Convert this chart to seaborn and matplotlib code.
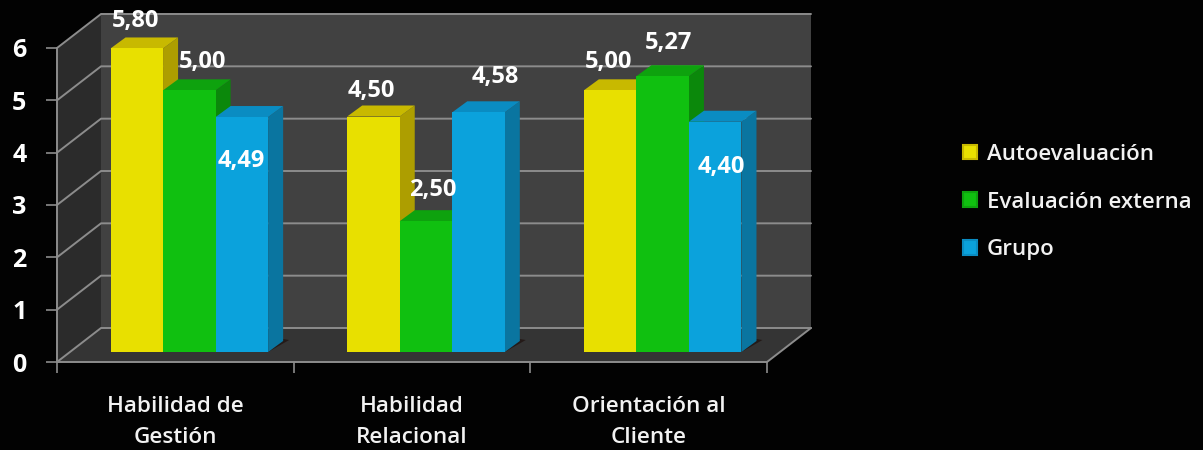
import matplotlib
matplotlib.use("Agg")
import matplotlib.pyplot as plt
import seaborn as sns
import pandas as pd
from matplotlib.patches import Polygon, Patch
from matplotlib.transforms import IdentityTransform

# ---- data ----
categories = ["Habilidad de\nGestión", "Habilidad\nRelacional", "Orientación al\nCliente"]
series_names = ["Autoevaluación", "Evaluación externa", "Grupo"]
autoevaluacion = [5.80, 4.50, 5.00]
evaluacion_externa = [5.00, 2.50, 5.27]
grupo = [4.49, 4.58, 4.40]
y_ticks = [0, 1, 2, 3, 4, 5, 6]

# ---- style / placement ----
W, H = 1203, 450
FONT = "Open Sans"
front_col = dict(zip(series_names, ["#E8E000", "#10C010", "#0BA2DC"]))
side_col = dict(zip(series_names, ["#AD9E00", "#0B880B", "#0A75A0"]))
top_col = dict(zip(series_names, ["#C8B900", "#0EA20E", "#0A8CC2"]))
WALL_D = (44, 34)      # depth of the chart box, px
BAR_SHIFT = (14, 10)   # bars stand inside the box, px
BAR_D = (15, 11)       # depth of each bar, px
# label offsets from top-centre of each bar front, px (series by series)
label_off = {
    "Autoevaluación": [(-1, 27), (-2, 26), (-2, 28)],
    "Evaluación externa": [(13, 28), (7, 31), (6, 33)],
    "Grupo": [(-1, -44), (17, 35), (6, -45)],
}

sns.set_theme(style="white")
plt.rcParams["font.family"] = [FONT, "DejaVu Sans"]
fig = plt.figure(figsize=(W / 100, H / 100), dpi=100, facecolor="#020202")


def box(l, bottom_px, r, top_px):
    return [l / W, 1 - bottom_px / H, (r - l) / W, (bottom_px - top_px) / H]


ax = fig.add_axes(box(57, 362, 767, 48), facecolor="none")
ax_bar = fig.add_axes(box(57 + BAR_SHIFT[0], 362 - BAR_SHIFT[1], 767 + BAR_SHIFT[0], 48 - BAR_SHIFT[1]),
                      facecolor="none", zorder=3)

df = pd.DataFrame({
    "cat": categories * 3,
    "serie": [s for s in series_names for _ in categories],
    "valor": autoevaluacion + evaluacion_externa + grupo,
})
sns.barplot(data=df, x="cat", y="valor", hue="serie", order=categories, hue_order=series_names,
            palette=front_col, width=0.666, gap=0, saturation=1, legend=False, ax=ax_bar, linewidth=0)
ax_bar.set_xlim(-0.5, 2.5)
ax_bar.set_ylim(0, 6)
ax_bar.axis("off")

# base axes
ax.set_xlim(-0.5, 2.5)
ax.set_ylim(0, 6)
ax.set_yticks(y_ticks)
ax.set_xticks(range(len(categories)))
ax.set_xticklabels(categories, linespacing=1.62, fontsize=16.2, fontweight="semibold", color="#F2F2F2")
ax.set_xticks([-0.5, 0.5, 1.5, 2.5], minor=True)
ax.tick_params(axis="x", which="major", length=0, pad=24.5)
ax.tick_params(axis="x", which="minor", length=8, width=1.2, color="#8C8C8C", direction="out", bottom=True)
ax.tick_params(axis="y", length=8, width=1.2, color="#8C8C8C", pad=14, left=True)
for t in ax.get_yticklabels():
    t.set_fontsize(18)
    t.set_fontweight("bold")
    t.set_color("white")
for s in ax.spines.values():
    s.set_visible(False)
ax.set_xlabel("")
ax.set_ylabel("")

fig.canvas.draw()
px = IdentityTransform()
to_px = ax.transData.transform


def poly(pts, col, z, target=ax):
    target.add_patch(Polygon(pts, closed=True, facecolor=col, edgecolor="none",
                             transform=px, clip_on=False, zorder=z))


# chart box
(x0, y0), (x1, y1) = to_px((-0.5, 0)), to_px((2.5, 6))
dx, dy = WALL_D
poly([(x0 + dx, y0 + dy), (x1 + dx, y0 + dy), (x1 + dx, y1 + dy), (x0 + dx, y1 + dy)], "#414141", 0.1)
poly([(x0, y0), (x0 + dx, y0 + dy), (x0 + dx, y1 + dy), (x0, y1)], "#2B2B2B", 0.2)
poly([(x0, y0), (x1, y0), (x1 + dx, y0 + dy), (x0 + dx, y0 + dy)], "#343434", 0.2)
for v in y_ticks:
    _, yy = to_px((0, v))
    ax.plot([x0, x0 + dx, x1 + dx], [yy, yy + dy, yy + dy], color="#8C8C8C", lw=1.4, transform=px,
            clip_on=False, zorder=0.5)
ax.plot([x0, x1, x1 + dx], [y0, y0, y0 + dy], color="#8C8C8C", lw=1.4, transform=px, clip_on=False, zorder=0.5)
ax.plot([x0, x0], [y0, y1], color="#8C8C8C", lw=1.4, transform=px, clip_on=False, zorder=0.5)

# 3D bars, built on the seaborn bars' own geometry
bar_px = ax_bar.transData.transform
bdx, bdy = BAR_D
n = len(categories)
rects = []
for i, s in enumerate(series_names):
    for j in range(n):
        rects.append((ax_bar.patches[i * n + j], s, j))
rects.sort(key=lambda r: r[0].get_x())
z = 1.0
for k, (rect, s, j) in enumerate(rects):
    xa, xb = rect.get_x(), rect.get_x() + rect.get_width()
    h = rect.get_height()
    (ax_px, base), (bx_px, top) = bar_px((xa, 0)), bar_px((xb, h))
    if s == series_names[-1]:
        poly([(bx_px, base), (bx_px + bdx + 6, base + bdy + 1), (bx_px + bdx, base + bdy + 2)],
             "#241A18", 0.8, ax_bar)
    poly([(bx_px, base), (bx_px + bdx, base + bdy), (bx_px + bdx, top + bdy), (bx_px, top)], side_col[s], z, ax_bar)
    poly([(ax_px, top), (bx_px, top), (bx_px + bdx, top + bdy), (ax_px + bdx, top + bdy)], top_col[s], z + 0.1, ax_bar)
    rect.set_zorder(z + 0.2)
    off = label_off[s][j]
    ax_bar.annotate(f"{h:.2f}".replace(".", ","), xy=((ax_px + bx_px) / 2, top), xycoords=px,
                    xytext=(off[0] * 0.72, off[1] * 0.72), textcoords="offset points",
                    ha="center", va="center", color="white", fontsize=17, fontweight="bold",
                    zorder=50, annotation_clip=False)
    z += 1

# legend
handles = [Patch(facecolor=front_col[s], edgecolor=top_col[s], lw=1.5) for s in series_names]
leg = fig.legend(handles, series_names, loc="center left", bbox_to_anchor=(963 / W, 1 - 202 / H),
                 frameon=False, fontsize=16, labelspacing=1.2, handlelength=0.65, handleheight=0.65,
                 handletextpad=0.43, borderpad=0, borderaxespad=0)
for t in leg.get_texts():
    t.set_color("#F2F2F2")
    t.set_fontweight("semibold")

fig.savefig("out.png", dpi=100, facecolor=fig.get_facecolor())
